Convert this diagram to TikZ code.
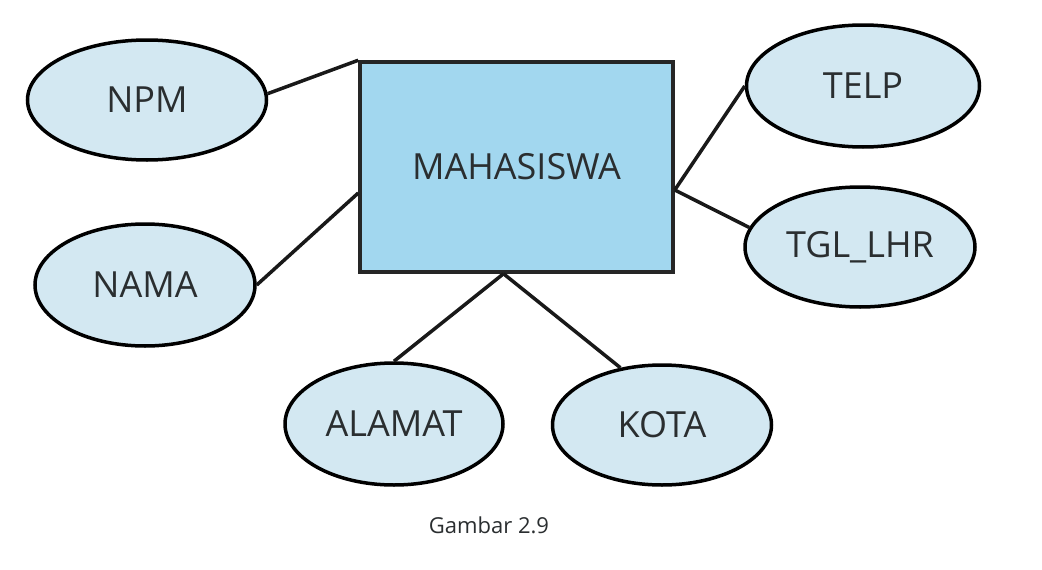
\documentclass[tikz,border=0pt]{standalone}
\usepackage{fontspec}
\setmainfont{Open Sans}
\usetikzlibrary{shapes.geometric,calc}
\definecolor{attrfill}{HTML}{D3E8F2}
\definecolor{entfill}{HTML}{A2D7EF}
\definecolor{txt}{HTML}{2A2E30}
\tikzset{
  attr/.style={ellipse, draw=black, line width=3.5pt, fill=attrfill, inner sep=0pt, text=txt,
    font=\fontsize{36}{40}\selectfont},
  ent/.style={rectangle, draw=black!85, line width=3.5pt, fill=entfill, inner sep=0pt, text=txt,
    font=\fontsize{36}{40}\selectfont},
  link/.style={line width=3.5pt, draw=black!90},
}
\begin{document}
\begin{tikzpicture}[x=1pt,y=-1pt]
\useasboundingbox[fill=white] (0,0) rectangle (1042,570);
\node[ent, minimum width=313pt, minimum height=210pt] (mhs) at (516.5,167) {MAHASISWA};
\node[attr, minimum width=239pt, minimum height=120pt] (npm) at (147,100) {NPM};
\node[attr, minimum width=220pt, minimum height=122pt] (nama) at (145,285) {NAMA};
\node[attr, minimum width=233pt, minimum height=122pt] (telp) at (863,86) {TELP};
\node[attr, minimum width=230pt, minimum height=120pt] (tgl) at (860,247) {TGL\_LHR};
\node[attr, minimum width=218pt, minimum height=122pt] (alamat) at (394,424) {ALAMAT};
\node[attr, minimum width=219pt, minimum height=120pt] (kota) at (662,425) {KOTA};
\node[text=txt, font=\fontsize{22}{24}\selectfont] (cap) at (489,525) {Gambar 2.9};
\coordinate (mw) at ($(mhs.west)+(0,26)$);
\coordinate (me) at ($(mhs.east)+(0,23)$);
\coordinate (ms) at ($(mhs.south)+(-13,0)$);
\draw[link] (npm.3) -- (mhs.north west);
\draw[link] (nama.east) -- (mw);
\draw[link] (me) -- (telp.west);
\draw[link] (me) -- (tgl.170);
\draw[link] (ms) -- (alamat.north);
\draw[link] (ms) -- (kota.126);
\end{tikzpicture}
\end{document}
